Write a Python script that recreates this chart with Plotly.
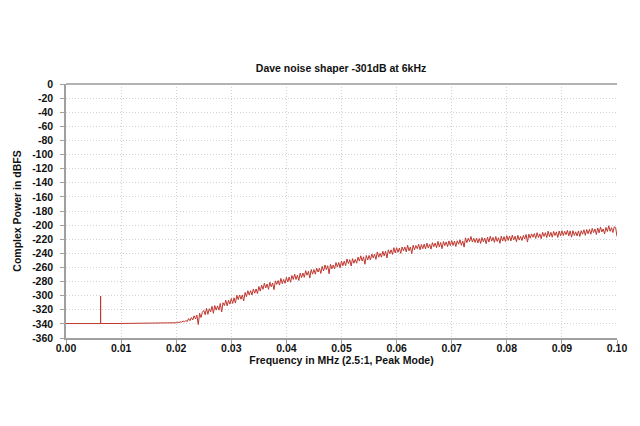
import plotly.graph_objects as go

# Flat low-frequency part with the 6 kHz tone
flat_freq = [0.0, 0.00627, 0.00628, 0.00629, 0.0100, 0.0150, 0.0180, 0.0199]
flat_db = [-339.5, -339.5, -300.5, -339.5, -339.4, -339.2, -338.9, -338.6]

# Noise-shaped rise at 0.00025 MHz spacing from 0.020 to 0.100
shaped_start = 0.020
shaped_step = 0.00025
shaped_db = [
    -338.4, -337.6, -338.2, -337.0, -337.6, -336.0, -337.2, -335.0, -336.8, -332.5,
    -335.5, -331.0, -334.5, -328.5, -333.0, -327.5, -341.0, -325.0, -331.0, -323.5,
    -321.0, -327.0, -318.0, -326.5, -318.5, -323.0, -315.0, -325.0, -314.0, -320.5,
    -314.5, -320.5, -311.0, -323.0, -310.0, -314.0, -306.5, -314.5, -306.5, -312.0,
    -304.0, -311.0, -303.0, -310.5, -299.5, -305.5, -299.0, -305.0, -299.0, -307.5,
    -295.5, -301.5, -293.0, -299.0, -293.0, -299.0, -290.5, -296.5, -290.5, -297.0,
    -287.0, -293.5, -285.0, -291.0, -282.5, -289.0, -283.5, -291.0, -281.0, -287.5,
    -282.0, -291.5, -279.0, -284.0, -278.5, -285.0, -275.5, -283.0, -277.0, -282.5,
    -274.0, -280.5, -273.5, -281.0, -271.5, -277.0, -269.5, -277.0, -271.0, -278.5,
    -268.0, -274.5, -268.0, -274.0, -264.5, -271.0, -265.5, -275.0, -263.0, -269.5,
    -263.0, -269.5, -261.0, -266.5, -261.0, -268.5, -258.5, -265.0, -256.5, -263.0,
    -257.5, -269.0, -255.5, -262.0, -256.5, -262.0, -253.0, -259.5, -253.0, -260.5,
    -251.0, -257.5, -251.0, -257.5, -248.0, -254.5, -249.0, -258.0, -247.5, -254.0,
    -248.5, -254.0, -245.5, -251.0, -243.5, -251.0, -245.0, -255.5, -243.0, -249.5,
    -243.0, -249.5, -241.0, -246.5, -241.0, -248.5, -238.0, -245.5, -240.0, -245.5,
    -237.0, -243.5, -237.0, -246.5, -235.0, -240.5, -235.0, -241.5, -232.0, -239.5,
    -232.0, -238.5, -232.5, -240.0, -231.0, -236.5, -231.0, -238.0, -228.5, -236.5,
    -231.0, -240.5, -228.5, -235.0, -229.0, -233.5, -227.0, -235.0, -227.5, -233.5,
    -227.0, -233.8, -225.6, -232.4, -227.2, -234.0, -224.8, -230.6, -225.4, -232.2,
    -223.0, -230.8, -224.6, -233.4, -223.2, -229.0, -223.8, -230.6, -222.4, -229.2,
    -222.0, -228.8, -222.6, -230.4, -222.2, -227.0, -220.8, -228.6, -222.4, -231.2,
    -218.0, -224.8, -218.6, -223.4, -216.2, -224.0, -218.8, -224.6, -218.4, -225.2,
    -219.0, -225.9, -217.7, -223.6, -218.4, -226.3, -217.1, -224.0, -215.8, -222.7,
    -217.5, -224.4, -216.2, -223.1, -217.9, -225.8, -215.6, -222.5, -216.3, -223.2,
    -215.0, -221.8, -215.6, -222.4, -214.2, -221.0, -215.8, -223.6, -214.4, -221.2,
    -216.0, -221.8, -214.6, -219.4, -213.2, -224.0, -212.8, -218.6, -212.4, -217.2,
    -212.0, -218.9, -210.7, -217.6, -212.4, -219.3, -210.1, -216.0, -210.8, -217.7,
    -208.5, -216.4, -210.2, -217.1, -208.9, -214.8, -209.6, -217.5, -208.3, -215.2,
    -208.0, -214.9, -208.7, -213.6, -207.4, -215.3, -208.1, -217.0, -207.8, -214.7,
    -209.5, -215.4, -208.2, -216.1, -207.9, -212.8, -206.6, -214.5, -206.3, -212.2,
    -206.0, -212.9, -204.7, -210.6, -205.4, -213.3, -204.1, -211.0, -202.8, -209.7,
    -205.5, -212.4, -203.2, -209.1, -200.9, -208.8, -203.6, -210.5, -202.3, -203.5,
    -216.0,
]
shaped_freq = [shaped_start + i * shaped_step for i in range(len(shaped_db))]

freq = flat_freq + shaped_freq
power = flat_db + shaped_db

x_ticks = [0.00, 0.01, 0.02, 0.03, 0.04, 0.05, 0.06, 0.07, 0.08, 0.09, 0.10]
x_labels = ["0.00", "0.01", "0.02", "0.03", "0.04", "0.05", "0.06", "0.07", "0.08", "0.09", "0.10"]
y_ticks = [0, -20, -40, -60, -80, -100, -120, -140, -160, -180, -200,
           -220, -240, -260, -280, -300, -320, -340, -360]
y_labels = ["0", "-20", "-40", "-60", "-80", "-100", "-120", "-140", "-160", "-180", "-200",
            "-220", "-240", "-260", "-280", "-300", "-320", "-340", "-360"]

font_family = "Liberation Sans, Arial, sans-serif"
text_color = "#111111"

fig = go.Figure()
fig.add_trace(go.Scatter(
    x=freq, y=power, mode="lines",
    line=dict(color="#c0372f", width=1),
    hoverinfo="skip", showlegend=False,
))

fig.update_layout(
    width=624, height=410,
    paper_bgcolor="white", plot_bgcolor="white",
    margin=dict(l=58, r=15, t=76, b=80),
    title=dict(
        text="<b>Dave noise shaper -301dB at 6kHz</b>",
        x=0.5337, xanchor="center", y=0.8537, yanchor="middle",
        font=dict(family=font_family, size=10.5, color=text_color),
    ),
    font=dict(family=font_family, size=10, color=text_color),
)

fig.update_xaxes(
    range=[0, 0.1], tickvals=x_ticks, ticktext=x_labels,
    tickfont=dict(family=font_family, size=10.5, color=text_color, weight="bold"),
    showgrid=True, gridcolor="#d2d2d2", griddash="1px,2px", gridwidth=1,
    showline=True, linecolor="#a0a0a0", linewidth=1.5,
    ticks="outside", ticklen=4, tickcolor="#a0a0a0",
    ticklabelstandoff=-4,
    zeroline=False, automargin=False,
    title=dict(text="<b>Frequency in MHz (2.5:1, Peak Mode)</b>",
               font=dict(family=font_family, size=10.5, color=text_color), standoff=0),
)
fig.update_yaxes(
    range=[-360, 0], tickvals=y_ticks, ticktext=y_labels,
    tickfont=dict(family=font_family, size=10.5, color=text_color, weight="bold"),
    showgrid=True, gridcolor="#d2d2d2", griddash="1px,2px", gridwidth=1,
    showline=True, linecolor="#a0a0a0", linewidth=1.5,
    ticks="outside", ticklen=4, tickcolor="#a0a0a0",
    ticklabelstandoff=5,
    zeroline=False, automargin=False,
    title=dict(text="<b>Complex Power in dBFS</b>",
               font=dict(family=font_family, size=10.5, color=text_color), standoff=8),
)

fig.add_shape(type="line", xref="paper", yref="paper", x0=0, x1=1, y0=1, y1=1,
              line=dict(color="#b3b3b3", width=2))

fig.write_html("out.html")
